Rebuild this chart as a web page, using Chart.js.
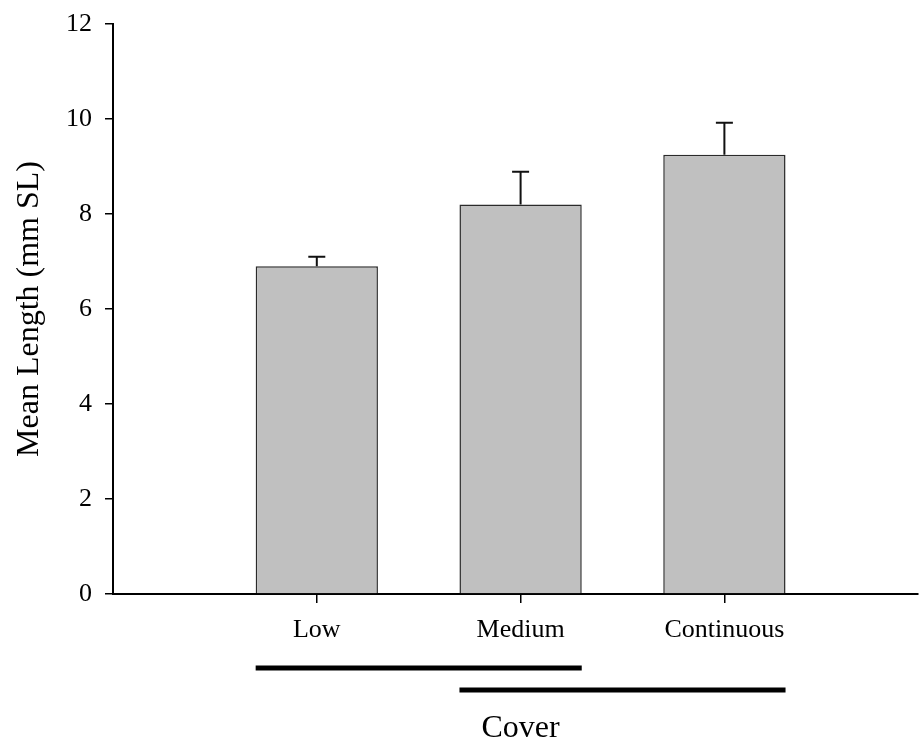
<!DOCTYPE html>
<html>
<head>
<meta charset="utf-8">
<script src="https://cdn.jsdelivr.net/npm/chart.js@4.4.1/dist/chart.umd.min.js"></script>
<style>
  html, body { margin: 0; padding: 0; background: #fff; }
  #wrap { width: 919px; height: 740px; }
</style>
</head>
<body>
<div id="wrap"><canvas id="c" width="919" height="740"></canvas></div>
<script>
// Cover levels and mean standard length with upper error
const categories = ['Low', 'Medium', 'Continuous'];
const meanLength = [6.9, 8.2, 9.25];
const errorUpper = [0.2, 0.69, 0.67];
const yTicks = [0, 2, 4, 6, 8, 10, 12];
// Underlines joining cover levels that do not differ (category index ranges)
const groups = [[0, 1], [1, 2]];
const yTitle = 'Mean Length (mm SL)';
const xTitle = 'Cover';

const SERIF = '"Liberation Serif", "Times New Roman", Times, serif';

const errorBars = {
  id: 'errorBars',
  afterDatasetsDraw(chart) {
    const { ctx, scales: { y } } = chart;
    const meta = chart.getDatasetMeta(0);
    ctx.save();
    ctx.strokeStyle = '#111';
    ctx.lineWidth = 2;
    meta.data.forEach((bar, i) => {
      const top = y.getPixelForValue(meanLength[i] + errorUpper[i]);
      ctx.beginPath();
      ctx.moveTo(bar.x, bar.y);
      ctx.lineTo(bar.x, top);
      ctx.moveTo(bar.x - 8.5, top);
      ctx.lineTo(bar.x + 8.5, top);
      ctx.stroke();
    });
    ctx.restore();
  }
};

const groupLines = {
  id: 'groupLines',
  afterDraw(chart) {
    const { ctx } = chart;
    const meta = chart.getDatasetMeta(0);
    const bars = meta.data;
    ctx.save();
    ctx.fillStyle = '#000';
    groups.forEach(([a, b], k) => {
      const x0 = bars[a].x - bars[a].width / 2;
      const x1 = bars[b].x + bars[b].width / 2;
      const yy = 668 + k * 22;
      ctx.fillRect(x0, yy - 2.5, x1 - x0, 5);
    });
    ctx.font = '32px ' + SERIF;
    ctx.textAlign = 'center';
    ctx.textBaseline = 'alphabetic';
    ctx.fillText(xTitle, bars[1].x, 737);
    ctx.restore();
  }
};

new Chart(document.getElementById('c'), {
  type: 'bar',
  data: {
    datasets: [{
      data: categories.map((c, i) => ({ x: i + 1, y: meanLength[i] })),
      backgroundColor: '#c0c0c0',
      borderColor: '#2a2a2a',
      borderWidth: 1.5,
      categoryPercentage: 1,
      barPercentage: 0.6
    }]
  },
  options: {
    responsive: false,
    animation: false,
    devicePixelRatio: 1,
    layout: { padding: { top: 24, right: 1, left: 0, bottom: 0 } },
    plugins: { legend: { display: false }, tooltip: { enabled: false } },
    scales: {
      x: {
        type: 'linear',
        offset: false,
        min: 0,
        max: 3.95,
        afterBuildTicks(scale) {
          scale.ticks = categories.map((c, i) => ({ value: i + 1 }));
        },
        afterFit(scale) {
          scale.height = 146;
          scale.paddingLeft = 0;
          scale.paddingRight = 0;
        },
        ticks: {
          autoSkip: false,
          maxRotation: 0,
          padding: 12,
          color: '#000',
          font: { family: SERIF, size: 26 },
          callback: (v) => categories[v - 1] ?? ''
        },
        grid: {
          offset: false,
          drawOnChartArea: false,
          tickLength: 9,
          color: '#000',
          lineWidth: 1.5
        },
        border: { color: '#000', width: 2 }
      },
      y: {
        min: 0,
        max: 12,
        afterBuildTicks(scale) {
          scale.ticks = yTicks.map(v => ({ value: v }));
        },
        afterFit(scale) {
          scale.width = 113;
          scale.paddingTop = 0;
          scale.paddingBottom = 0;
        },
        ticks: {
          padding: 13,
          color: '#000',
          font: { family: SERIF, size: 26 }
        },
        grid: {
          drawOnChartArea: false,
          tickLength: 8,
          color: '#000',
          lineWidth: 1.5
        },
        border: { color: '#000', width: 2 },
        title: {
          display: true,
          text: yTitle,
          color: '#000',
          font: { family: SERIF, size: 32 },
          padding: { top: 10, bottom: 0 }
        }
      }
    }
  },
  plugins: [errorBars, groupLines]
});
</script>
</body>
</html>
